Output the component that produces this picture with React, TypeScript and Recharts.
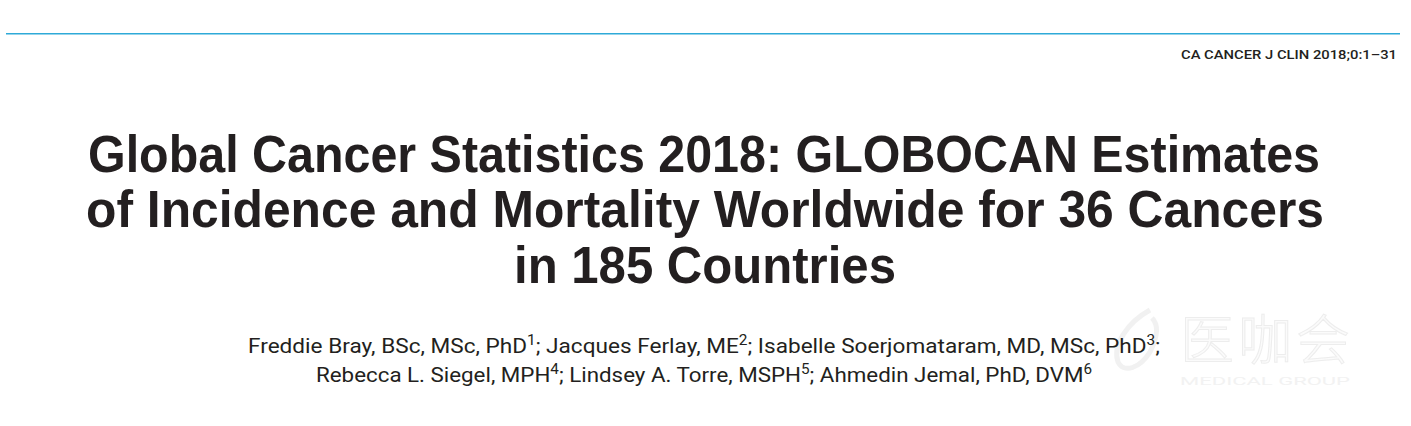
import React from "react";
import { Surface, Layer } from "recharts";

// header content
const journalRef = "CA CANCER J CLIN 2018;0:1–31";

const titleLines = [
  "Global Cancer Statistics 2018: GLOBOCAN Estimates",
  "of Incidence and Mortality Worldwide for 36 Cancers",
  "in 185 Countries",
];

// [name, affiliation superscript]
const authorsLine1: [string, string][] = [
  ["Freddie Bray, BSc, MSc, PhD", "1"],
  ["; Jacques Ferlay, ME", "2"],
  ["; Isabelle Soerjomataram, MD, MSc, PhD", "3"],
  [";", ""],
];
const authorsLine2: [string, string][] = [
  ["Rebecca L. Siegel, MPH", "4"],
  ["; Lindsey A. Torre, MSPH", "5"],
  ["; Ahmedin Jemal, PhD, DVM", "6"],
];

const watermark = "医咖会";
const watermarkSub = "MEDICAL GROUP";

const W = 1411;
const H = 426;
const INK = "#231f20";

// left x, right x, baseline y for each title line
const titleBoxes = [
  [88, 1320, 172],
  [86, 1324, 227],
  [514, 896, 283],
];

function AuthorLine({
  parts,
  x0,
  x1,
  y,
}: {
  parts: [string, string][];
  x0: number;
  x1: number;
  y: number;
}) {
  return (
    <text
      x={x0}
      y={y}
      textLength={x1 - x0}
      lengthAdjust="spacingAndGlyphs"
      fontFamily="Roboto, sans-serif"
      fontSize={20.5}
      fill={INK}
    >
      {parts.map(([name, sup], i) => (
        <React.Fragment key={i}>
          <tspan dy={i === 0 ? 0 : 8}>{name}</tspan>
          <tspan fontSize={14} dy={-8}>
            {sup}
          </tspan>
        </React.Fragment>
      ))}
    </text>
  );
}

export default function App() {
  return (
    <div
      style={{
        position: "fixed",
        left: 0,
        top: 0,
        width: W,
        height: H,
        background: "#fff",
      }}
    >
      <Surface width={W} height={H} viewBox={{ x: 0, y: 0, width: W, height: H }}>
        <rect x={0} y={0} width={W} height={H} fill="#fff" />
        <rect x={6} y={33} width={1394} height={1.5} fill="#2eaad8" />

        <text
          x={1181}
          y={59}
          textLength={216}
          lengthAdjust="spacingAndGlyphs"
          fontFamily="Roboto, sans-serif"
          fontWeight={500}
          fontSize={12.5}
          fill={INK}
        >
          {journalRef}
        </text>

        <Layer>
          {titleLines.map((t, i) => {
            const [x0, x1, y] = titleBoxes[i];
            return (
              <text
                key={t}
                x={x0}
                y={y}
                textLength={x1 - x0}
                lengthAdjust="spacingAndGlyphs"
                fontFamily="'Liberation Sans', Arial, sans-serif"
                fontWeight={700}
                fontSize={52}
                fill={INK}
              >
                {t}
              </text>
            );
          })}
        </Layer>

        {/* faint site watermark */}
        <Layer opacity={0.9}>
          <path
            d="M1150,310 C1128,322 1112,345 1118,362 C1124,374 1140,368 1150,352 C1156,340 1160,326 1152,318"
            fill="none"
            stroke="#f0f0f0"
            strokeWidth={5}
          />
          <text
            x={1180}
            y={360}
            fontFamily="'Noto Sans CJK SC', sans-serif"
            fontSize={54}
            fontWeight={300}
            fill="#fbfbfb"
            stroke="#ececec"
            strokeWidth={1}
            letterSpacing={4}
          >
            {watermark}
          </text>
          <text
            x={1180}
            y={385}
            textLength={170}
            lengthAdjust="spacingAndGlyphs"
            fontFamily="Roboto, sans-serif"
            fontSize={11}
            fill="#f1f1f1"
          >
            {watermarkSub}
          </text>
        </Layer>

        <AuthorLine parts={authorsLine1} x0={248} x1={1160} y={353} />
        <AuthorLine parts={authorsLine2} x0={316} x1={1092} y={382} />
      </Surface>
    </div>
  );
}
